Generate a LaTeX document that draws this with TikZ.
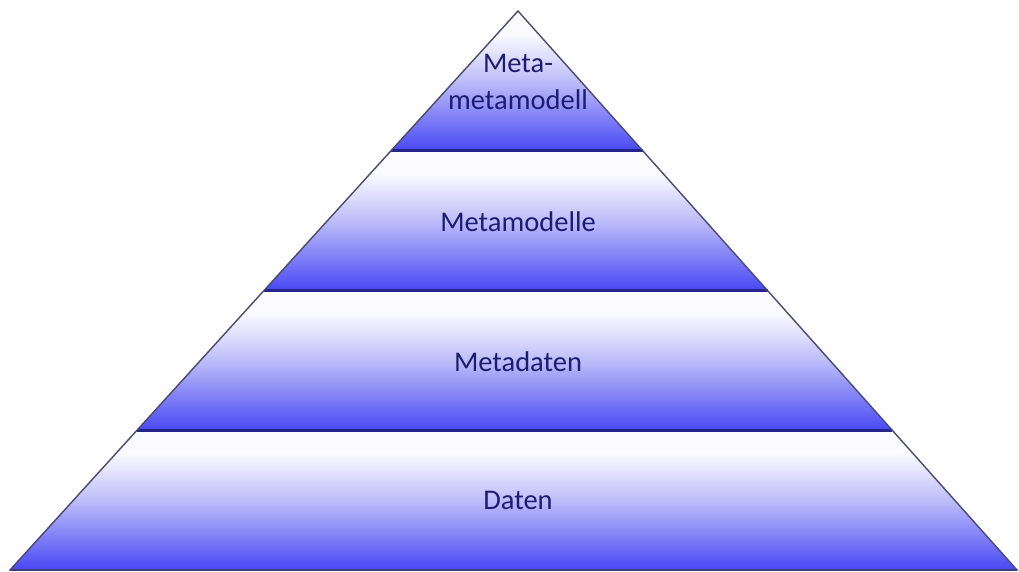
\documentclass[tikz,border=0pt]{standalone}
\usepackage{fontspec}
\setmainfont{Carlito}
\usetikzlibrary{calc}
\definecolor{bandtop}{HTML}{FBFBFF}
\definecolor{bandmid}{HTML}{BDBDF9}
\definecolor{bandbot}{HTML}{4848F5}
\definecolor{divline}{HTML}{24248C}
\definecolor{edgeline}{HTML}{4A4A6E}
\definecolor{labeltext}{HTML}{1C1C72}
% the band of the shading that covers a path runs from 25bp to 75bp
\pgfdeclareverticalshading{band}{100bp}{color(0bp)=(bandbot); color(25bp)=(bandbot); color(50bp)=(bandmid); color(67bp)=(bandtop); color(100bp)=(bandtop)}
\tikzset{
  bandfill/.style={shading=band, shading angle=0},
  divider/.style={draw=divline, line width=2.6pt},
  outline/.style={draw=edgeline, line width=1.4pt, line join=miter},
  lbl/.style={text=labeltext, font=\fontsize{28.5}{37}\selectfont, align=center, inner sep=0pt}
}
\begin{document}
\begin{tikzpicture}[x=1pt,y=-1pt]
\useasboundingbox (0,0) rectangle (1019,572);
% pyramid corners
\coordinate (apex) at (518,11);
\coordinate (bl) at (10,570);
\coordinate (br) at (1017,570);
% layer boundaries along the two slanted sides
\foreach \i in {1,2,3}{
  \coordinate (l\i) at ($(apex)!\i/4!(bl)$);
  \coordinate (r\i) at ($(apex)!\i/4!(br)$);
}
% shaded layers
\path[bandfill] (apex) -- (r1) -- (l1) -- cycle;
\path[bandfill] (l1) -- (r1) -- (r2) -- (l2) -- cycle;
\path[bandfill] (l2) -- (r2) -- (r3) -- (l3) -- cycle;
\path[bandfill] (l3) -- (r3) -- (br) -- (bl) -- cycle;
% dividing lines between layers
\draw[divider] (l1) -- (r1);
\draw[divider] (l2) -- (r2);
\draw[divider] (l3) -- (r3);
\draw[divider] (bl) -- (br);
% outer outline
\draw[outline] (apex) -- (bl) -- (br) -- cycle;
% layer labels
\node[lbl] (mmm) at (518,82) {Meta-\\metamodell};
\node[lbl] (mm) at (518,222) {Metamodelle};
\node[lbl] (md) at (518,362) {Metadaten};
\node[lbl] (d) at (518,500) {Daten};
\end{tikzpicture}
\end{document}
